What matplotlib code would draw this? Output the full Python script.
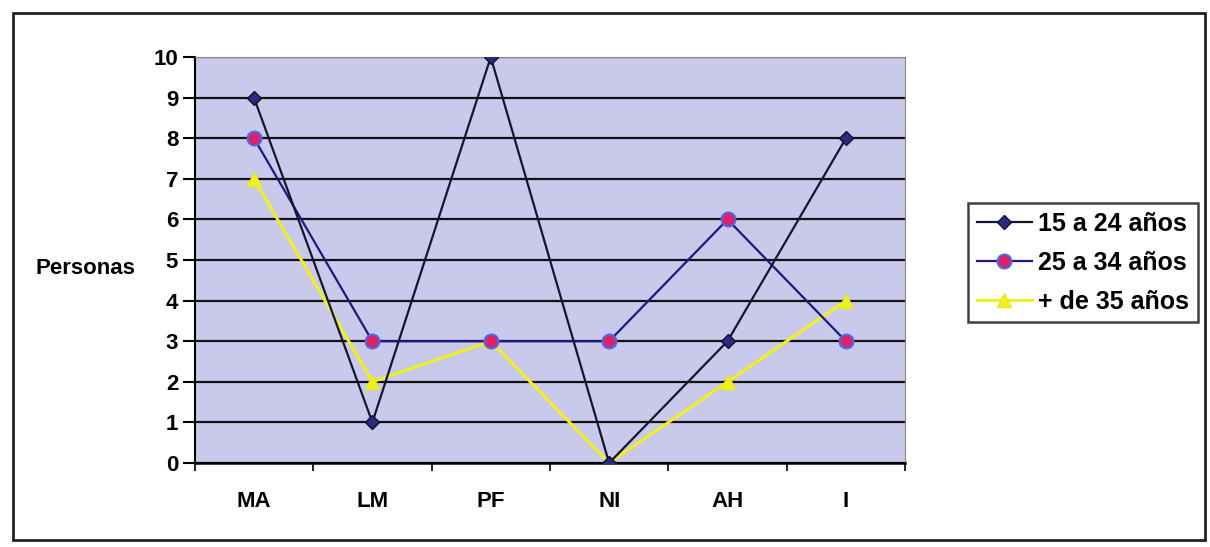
import matplotlib.pyplot as plt
from matplotlib.patches import Rectangle

plt.rcParams['font.family'] = ['Liberation Sans', 'DejaVu Sans']

categories = ["MA", "LM", "PF", "NI", "AH", "I"]
grupo_15_24 = [9, 1, 10, 0, 3, 8]
grupo_25_34 = [8, 3, 3, 3, 6, 3]
grupo_35 = [7, 2, 3, 0, 2, 4]
series_names = ["15 a 24 años", "25 a 34 años", "+ de 35 años"]

fig = plt.figure(figsize=(12.1, 5.47), dpi=100)
fig.patch.set_facecolor('white')

# outer frame of the chart
fig.patches.append(Rectangle((0.011, 0.012), 0.985, 0.965, transform=fig.transFigure,
                             fill=False, edgecolor='#222222', linewidth=2))

ax = fig.add_axes([0.161, 0.1536, 0.587, 0.742])
ax.set_facecolor('#c9c9ec')

x = list(range(len(categories)))
ax.plot(x, grupo_15_24, color='#151530', linewidth=1.6, marker='D', markersize=7,
        markerfacecolor='#2a2a80', markeredgecolor='#101030', label=series_names[0], zorder=5)
ax.plot(x, grupo_25_34, color='#1a1a80', linewidth=1.6, marker='o', markersize=10,
        markerfacecolor='#e0206a', markeredgecolor='#4a6ae0', markeredgewidth=1.5,
        label=series_names[1], zorder=4)
ax.plot(x, grupo_35, color='#f0f020', linewidth=2.2, marker='^', markersize=10,
        markerfacecolor='#f0f020', markeredgecolor='#e8e820', label=series_names[2], zorder=3)

ax.set_xlim(-0.5, len(categories) - 0.5)
ax.set_ylim(0, 10)
ax.set_yticks(range(0, 11))
ax.grid(axis='y', color='#111111', linewidth=1.6)
ax.set_axisbelow(True)

ax.set_xticks([i - 0.5 for i in range(len(categories) + 1)], minor=False)
ax.set_xticklabels([])
ax.set_xticks(x, minor=True)
ax.set_xticklabels(categories, minor=True, fontsize=16, fontweight='bold')
ax.tick_params(axis='x', which='minor', length=0, pad=20)
ax.tick_params(axis='x', which='major', length=6, width=1.2, direction='out')
ax.tick_params(axis='y', labelsize=16, length=9, width=1.5, direction='out', pad=3)
for lbl in ax.get_yticklabels():
    lbl.set_fontweight('bold')

for side in ['top', 'right']:
    ax.spines[side].set_color('#888888')
    ax.spines[side].set_linewidth(0.8)
ax.spines['left'].set_linewidth(1.5)
ax.spines['bottom'].set_linewidth(1.8)

fig.text(0.029, 0.51, "Personas", fontsize=16, fontweight='bold', va='center', ha='left')

leg = fig.legend(loc='upper left', bbox_to_anchor=(0.8, 0.629), fontsize=18,
                 frameon=True, fancybox=False, edgecolor='#111111', handlelength=2.2,
                 borderpad=0.35, labelspacing=0.6, handletextpad=0.25, borderaxespad=0)
leg.get_frame().set_linewidth(1.8)
for t in leg.get_texts():
    t.set_fontweight('bold')

fig.savefig('out.png', dpi=100)
